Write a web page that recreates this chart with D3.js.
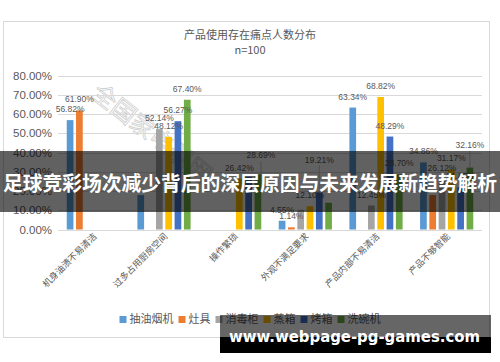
<!DOCTYPE html>
<html>
<head>
<meta charset="utf-8">
<script src="https://cdn.jsdelivr.net/npm/d3@7"></script>
<style>
  body { margin: 0; background: #fff; }
  svg { display: block; }
</style>
</head>
<body>
<div id="chart"></div>
<script>
// chart data
var categories = ['机身油渍不易清洁', '过多占用厨房空间', '操作繁琐', '外观不满足要求', '产品内部不易清洁', '产品不够智能'];
var series = ['抽油烟机', '灶具', '消毒柜', '蒸箱', '烤箱', '洗碗机'];
var colors = ['#5B9BD5', '#ED7D31', '#A5A5A5', '#FFC000', '#4472C4', '#70AD47'];
// one array per series, one value per category (percent)
var hood      = [56.82, 17.90, 0,     4.55,  63.34, 34.86];
var stove     = [61.90, 0,     0,     1.14,  0,     17.90];
var sterilize = [0,     52.14, 0,     10.23, 12.45, 26.12];
var steamer   = [0,     48.12, 26.42, 12.10, 68.82, 31.17];
var oven      = [0,     56.27, 27.36, 19.21, 48.29, 21.85];
var washer    = [0,     67.40, 28.69, 13.90, 28.70, 32.16];
var yTicks = [0, 10, 20, 30, 40, 50, 60, 70, 80];

var values = [hood, stove, sterilize, steamer, oven, washer];

// labels the picture does not show (hidden behind others)
var noLabel = ['抽油烟机|过多占用厨房空间', '烤箱|操作繁琐', '消毒柜|外观不满足要求',
               '洗碗机|外观不满足要求', '灶具|产品不够智能'];
// labels that were dragged up, with a leader line
var nudge = { '洗碗机|操作繁琐': [3, -8], '烤箱|外观不满足要求': [0, -22], '洗碗机|产品不够智能': [0, -12] };

var W = 500, H = 362;
var svg = d3.select('#chart').append('svg').attr('width', W).attr('height', H);
var grey = '#595959';

// chart frame
svg.append('rect').attr('x', 3.5).attr('y', 21.5).attr('width', 486).attr('height', 316)
  .attr('fill', '#fff').attr('stroke', '#d9d9d9');

svg.append('text').attr('x', 250).attr('y', 39).attr('text-anchor', 'middle')
  .attr('font-family', 'Noto Sans CJK SC').attr('font-size', 11).attr('fill', grey)
  .text('产品使用存在痛点人数分布');
svg.append('text').attr('x', 250).attr('y', 54).attr('text-anchor', 'middle')
  .attr('font-family', 'Noto Sans CJK SC').attr('font-size', 11).attr('fill', grey)
  .text('n=100');

var y = d3.scaleLinear().domain([0, 80]).range([229.5, 75.5]);
var x0 = d3.scaleBand().domain(categories).range([58, 482]);
var groupW = 53.2;
var x1 = d3.scaleBand().domain(series).range([0, groupW]).paddingInner(0.28);
var off = (x0.bandwidth() - groupW) / 2;

// faint watermark
svg.append('text').attr('transform', 'translate(90,96) rotate(38)')
  .attr('font-family', 'Noto Sans CJK SC').attr('font-size', 24)
  .attr('fill', 'none').attr('stroke', '#cfcfcf').attr('stroke-width', 0.8)
  .text('全国家电器网');

// gridlines
svg.append('g').selectAll('line').data(yTicks).enter().append('line')
  .attr('x1', 58).attr('x2', 482)
  .attr('y1', function (d) { return Math.round(y(d)) + 0.5; })
  .attr('y2', function (d) { return Math.round(y(d)) + 0.5; })
  .attr('stroke', '#d9d9d9');

svg.append('g').selectAll('text').data(yTicks).enter().append('text')
  .attr('x', 52).attr('y', function (d) { return y(d) + 4; })
  .attr('text-anchor', 'end')
  .attr('font-family', 'Liberation Sans, Arial, sans-serif').attr('font-size', 11.5).attr('fill', grey)
  .text(function (d) { return d.toFixed(2) + '%'; });

// flatten to bars
var bars = [];
series.forEach(function (s, si) {
  categories.forEach(function (c, ci) {
    if (values[si][ci] > 0) bars.push({ s: s, c: c, v: values[si][ci], color: colors[si], key: s + '|' + c });
  });
});

function barX(d) { return x0(d.c) + off + x1(d.s); }
function midX(d) { return barX(d) + x1.bandwidth() / 2; }

svg.append('g').selectAll('rect').data(bars).enter().append('rect')
  .attr('x', barX)
  .attr('y', function (d) { return y(d.v); })
  .attr('width', x1.bandwidth())
  .attr('height', function (d) { return y(0) - y(d.v); })
  .attr('fill', function (d) { return d.color; });

var labelled = bars.filter(function (d) { return noLabel.indexOf(d.key) < 0; });

// leader lines for dragged labels
svg.append('g').selectAll('line').data(labelled.filter(function (d) { return nudge[d.key]; }))
  .enter().append('line')
  .attr('x1', function (d) { return midX(d) + nudge[d.key][0]; })
  .attr('x2', function (d) { return midX(d) + nudge[d.key][0]; })
  .attr('y1', function (d) { return y(d.v) - 8 + nudge[d.key][1] + 3; })
  .attr('y2', function (d) { return y(d.v); })
  .attr('stroke', '#a6a6a6').attr('stroke-width', 0.6);

svg.append('g').selectAll('text').data(labelled).enter().append('text')
  .attr('x', function (d) { return midX(d) + (nudge[d.key] ? nudge[d.key][0] : 0); })
  .attr('y', function (d) { return y(d.v) - 8 + (nudge[d.key] ? nudge[d.key][1] : 0); })
  .attr('text-anchor', 'middle')
  .attr('font-family', 'Liberation Sans, Arial, sans-serif').attr('font-size', 8.5).attr('fill', grey)
  .text(function (d) { return d.v.toFixed(2) + '%'; });

// category labels, rotated
svg.append('g').selectAll('text').data(categories).enter().append('text')
  .attr('transform', function (d) {
    return 'translate(' + (x0(d) + x0.bandwidth() / 2 + 4) + ',237) rotate(-45)';
  })
  .attr('text-anchor', 'end')
  .attr('font-family', 'Noto Sans CJK SC').attr('font-size', 9).attr('fill', grey)
  .text(function (d) { return d; });

// legend
var leg = svg.append('g');
var lx = 0;
series.forEach(function (s, i) {
  var g = leg.append('g').attr('transform', 'translate(' + lx + ',0)');
  g.append('rect').attr('x', 0).attr('y', -7).attr('width', 7).attr('height', 7).attr('fill', colors[i]);
  var t = g.append('text').attr('x', 10).attr('y', 0)
    .attr('font-family', 'Noto Sans CJK SC').attr('font-size', 11).attr('fill', grey).text(s);
  lx += 10 + t.node().getComputedTextLength() + 5;
});
leg.attr('transform', 'translate(' + (250 - (lx - 5) / 2) + ',323)');

// overlay banners
svg.append('rect').attr('x', 0).attr('y', 151).attr('width', 500).attr('height', 61)
  .attr('fill', 'rgba(0,0,0,0.62)');
svg.append('text').attr('x', 3).attr('y', 191)
  .attr('textLength', 494).attr('lengthAdjust', 'spacingAndGlyphs')
  .attr('font-family', 'Noto Sans CJK SC').attr('font-weight', 'bold').attr('font-size', 20)
  .attr('fill', '#fff')
  .text('足球竞彩场次减少背后的深层原因与未来发展新趋势解析');

svg.append('rect').attr('x', 220).attr('y', 315).attr('width', 271).attr('height', 22)
  .attr('fill', 'rgba(0,0,0,0.6)');
svg.append('rect').attr('x', 220).attr('y', 337).attr('width', 271).attr('height', 16)
  .attr('fill', '#000');
svg.append('text').attr('x', 229).attr('y', 342)
  .attr('textLength', 251).attr('lengthAdjust', 'spacingAndGlyphs')
  .attr('font-family', 'DejaVu Sans, sans-serif').attr('font-weight', 'bold').attr('font-size', 16)
  .attr('fill', '#fff')
  .text('www.webpage-pg-games.com');
</script>
</body>
</html>
